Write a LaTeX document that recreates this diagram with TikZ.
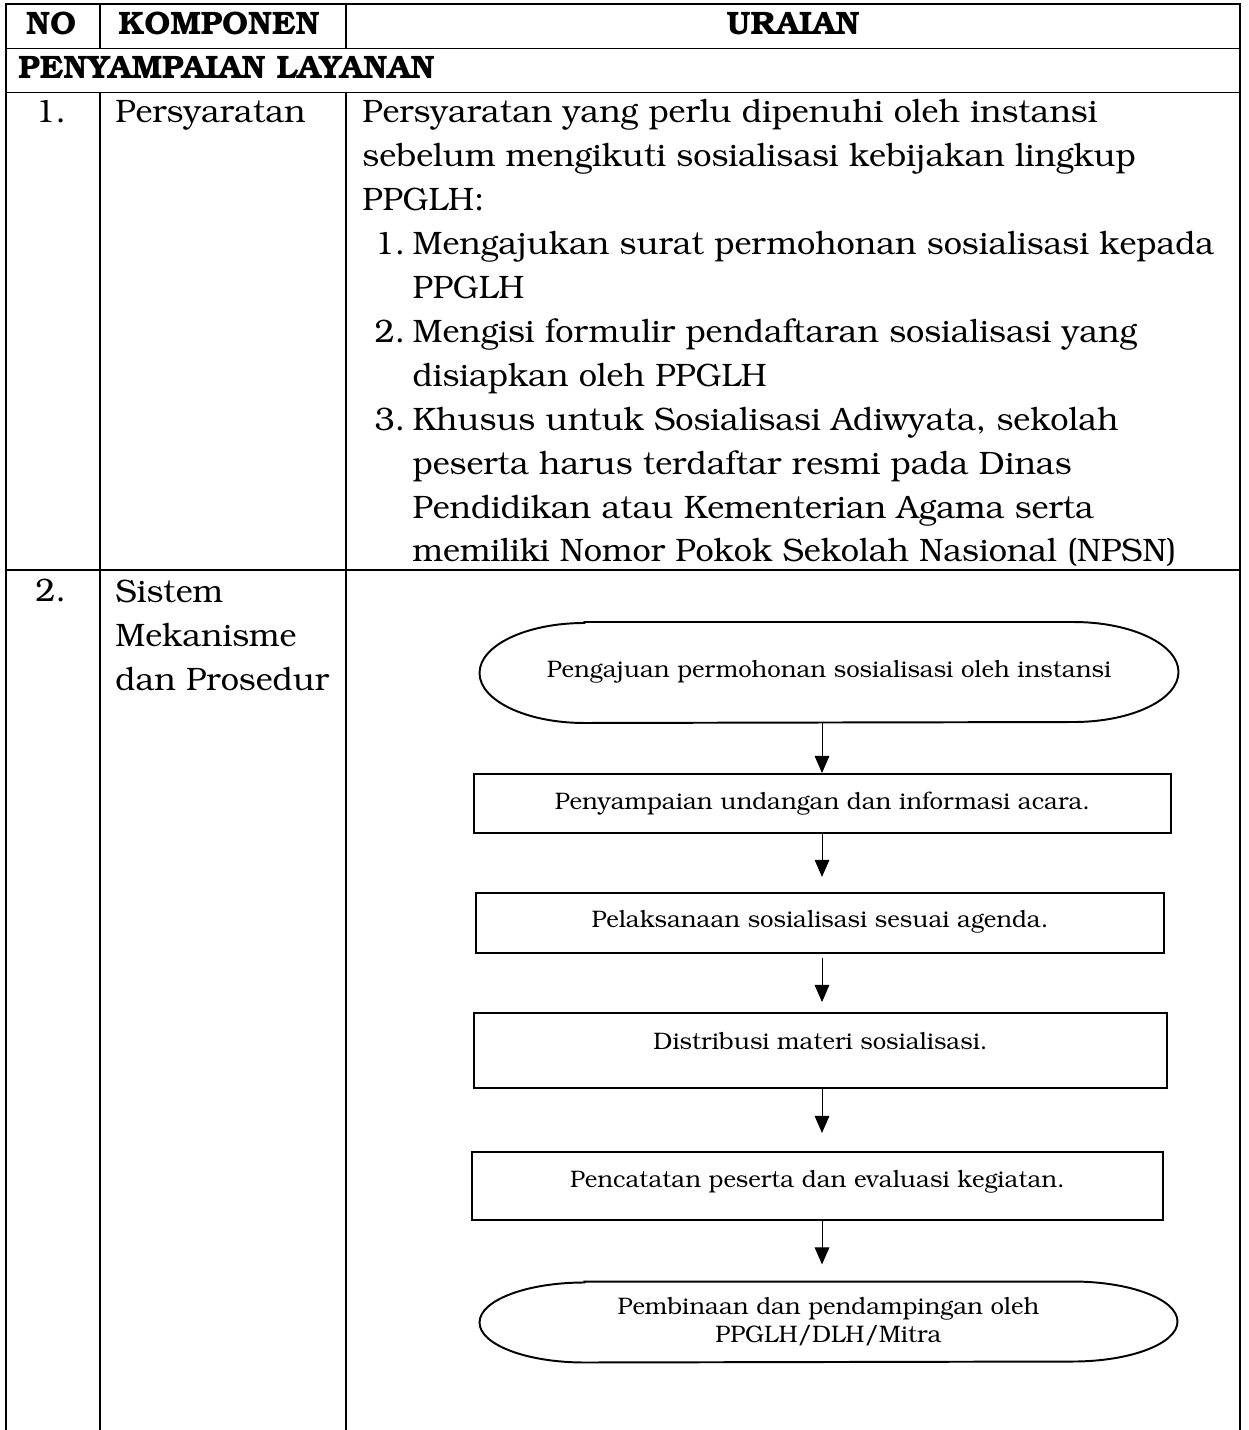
\documentclass[tikz,border=0pt]{standalone}
\usepackage[T1]{fontenc}
\usepackage{bookman}
\usetikzlibrary{arrows.meta}

\newcommand\bodyfont{\fontsize{13.3}{18}\selectfont}
\newcommand\flowfont{\fontsize{9.8}{11.5}\selectfont}
\newcommand\itemno[1]{\hspace*{5pt}\makebox[15.6pt][l]{#1}}
\newcommand\itemcont{\hspace*{20.6pt}}
% outline with half-ellipse ends round a terminal node
\newcommand\terminal[2]{\draw[line width=0.8pt] ([xshift=43pt]#1.north west) -- ([xshift=-43pt]#1.north east)
  arc[start angle=90, end angle=-90, x radius=43pt, y radius=#2] -- ([xshift=43pt]#1.south west)
  arc[start angle=270, end angle=90, x radius=43pt, y radius=#2] -- cycle;}

\tikzset{
  tableline/.style={line width=0.8pt},
  celltext/.style={anchor=base west, inner sep=0pt, align=left, font=\bodyfont},
  headtext/.style={anchor=base, inner sep=0pt, font=\bodyfont\bfseries},
  stepbox/.style={draw, line width=0.8pt, inner sep=0pt, font=\flowfont, text height=7pt, text depth=2pt},
  endbox/.style={inner sep=0pt, align=center, font=\flowfont},
  flowarrow/.style={->, line width=0.4pt}
}

\begin{document}
\begin{tikzpicture}[x=0.41pt, y=-0.41pt, >={Triangle[length=7pt,width=6pt]}]
\useasboundingbox (0,0) rectangle (1248,1430);
% Draw the table frame
\draw[tableline] (6,1430) -- (6,4) -- (1240,4) -- (1240,1430);
\foreach \y in {48.5,92.5,570} \draw[tableline] (6,\y) -- (1240,\y);
\foreach \x in {100,346} {
  \draw[tableline] (\x,4) -- (\x,48.5);
  \draw[tableline] (\x,92.5) -- (\x,1430);
}

% header and section row (base of a block = its last line)
\node[headtext] (hno) at (51,35) {NO};
\node[headtext] (hkomp) at (219,35) {KOMPONEN};
\node[headtext] (hurai) at (793,35) {URAIAN};
\node[headtext, anchor=base west] (section) at (18,79) {PENYAMPAIAN LAYANAN};

% row 1
\node[celltext] (no1) at (35,123) {1.};
\node[celltext] (komp1) at (115,123) {Persyaratan};
\node[celltext] (urai1) at (362,562) {Persyaratan yang perlu dipenuhi oleh instansi\\
  sebelum mengikuti sosialisasi kebijakan lingkup\\
  PPGLH:\\
  \itemno{1.}Mengajukan surat permohonan sosialisasi kepada\\
  \itemcont PPGLH\\
  \itemno{2.}Mengisi formulir pendaftaran sosialisasi yang\\
  \itemcont disiapkan oleh PPGLH\\
  \itemno{3.}Khusus untuk Sosialisasi Adiwyata, sekolah\\
  \itemcont peserta harus terdaftar resmi pada Dinas\\
  \itemcont Pendidikan atau Kementerian Agama serta\\
  \itemcont memiliki Nomor Pokok Sekolah Nasional (NPSN)};

% row 2
\node[celltext] (no2) at (35,602) {2.};
\node[celltext] (komp2) at (115,690) {Sistem\\Mekanisme\\dan Prosedur};

% the flowchart
\coordinate (ax) at (822,0);
\node[endbox, minimum width=698*0.41pt, minimum height=100*0.41pt] (pengajuan) at (829,672.5)
  {Pengajuan permohonan sosialisasi oleh instansi};
\terminal{pengajuan}{20.5pt}
\node[stepbox, minimum width=697*0.41pt, minimum height=59*0.41pt] (undangan) at (822.5,803.5)
  {Penyampaian undangan dan informasi acara.};
\node[stepbox, minimum width=688*0.41pt, minimum height=60*0.41pt, text depth=3.1pt] (pelaksanaan) at (820,923)
  {Pelaksanaan sosialisasi sesuai agenda.};
\node[stepbox, minimum width=693*0.41pt, minimum height=75*0.41pt, text depth=7.6pt] (materi) at (820.5,1050.5)
  {Distribusi materi sosialisasi.};
\node[stepbox, minimum width=691*0.41pt, minimum height=68*0.41pt, text depth=5.5pt] (evaluasi) at (817.5,1186)
  {Pencatatan peserta dan evaluasi kegiatan.};
\node[endbox, minimum width=697*0.41pt, minimum height=80*0.41pt] (pembinaan) at (828.5,1322)
  {Pembinaan dan pendampingan oleh\\PPGLH/DLH/Mitra};
\terminal{pembinaan}{16.4pt}

% arrows
\draw[flowarrow] (pengajuan.south -| ax) -- (undangan.north -| ax);
\draw[flowarrow, shorten >=6.2pt] (undangan.south -| ax) -- (pelaksanaan.north -| ax);
\draw[flowarrow, shorten <=1.6pt, shorten >=4.1pt] (pelaksanaan.south -| ax) -- (materi.north -| ax);
\draw[flowarrow, shorten >=7.4pt] (materi.south -| ax) -- (evaluasi.north -| ax);
\draw[flowarrow, shorten >=7pt] (evaluasi.south -| ax) -- (pembinaan.north -| ax);
\end{tikzpicture}
\end{document}
